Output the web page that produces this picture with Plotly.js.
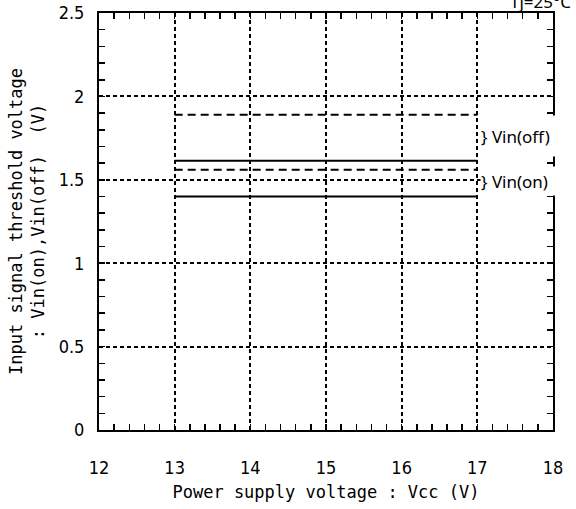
<!DOCTYPE html>
<html>
<head>
<meta charset="utf-8">
<script src="https://cdn.plot.ly/plotly-3.0.1.min.js"></script>
<style>html,body{margin:0;padding:0;background:#fff;}#chart{width:576px;height:509px;}</style>
</head>
<body>
<div id="chart"></div>
<script>
// Data
const vcc = [13, 17];
const vinOffUpper = [1.89, 1.89];   // dashed
const vinOffLower = [1.615, 1.615]; // solid
const vinOnUpper = [1.56, 1.56];    // dashed
const vinOnLower = [1.40, 1.40];    // solid

const xTickVals = [12, 13, 14, 15, 16, 17, 18];
const xTickText = ["12", "13", "14", "15", "16", "17", "18"];
const yTickVals = [0, 0.5, 1, 1.5, 2, 2.5];
const yTickText = ["0", "0.5", "1", "1.5", "2", "2.5"];

const labelOff = "}\u00a0Vin(off)";
const labelOn = "}\u00a0Vin(on)";
const condition = "Tj=25°C";
const xTitle = "Power supply voltage : Vcc (V)";
const yTitle = "Input signal threshold voltage<br>: Vin(on),Vin(off)\u00a0\u00a0(V)\u00a0\u00a0\u00a0\u00a0\u00a0";

const tickFont = {family: "Liberation Sans Narrow, DejaVu Sans Condensed, sans-serif", size: 18, color: "#000"};
const titleFont = {family: "DejaVu Sans Mono, monospace", size: 17, color: "#000"};
const annFont = {family: "Noto Sans, sans-serif", size: 17, color: "#000"};

function seg(y, dash) {
  return {x: vcc, y: y, type: "scatter", mode: "lines", showlegend: false, hoverinfo: "skip",
          line: {color: "#000", width: 2, dash: dash}};
}

const data = [
  seg(vinOffUpper, "8px,5px"),
  seg(vinOffLower, "solid"),
  seg(vinOnUpper, "8px,5px"),
  seg(vinOnLower, "solid")
];

const layout = {
  width: 576, height: 509,
  margin: {l: 99, r: 23, t: 13, b: 79},
  paper_bgcolor: "#fff", plot_bgcolor: "#fff",
  showlegend: false,
  xaxis: {
    range: [12, 18], tickvals: xTickVals, ticktext: xTickText,
    showline: true, linecolor: "#000", linewidth: 2, mirror: "ticks",
    ticks: "inside", ticklen: 6, tickwidth: 1.5, tickcolor: "#000",
    showgrid: true, gridcolor: "#000", gridwidth: 2, griddash: "4px,3px",
    zeroline: false, tickfont: tickFont, ticklabelstandoff: 20,
    minor: {dtick: 0.2, ticks: "inside", ticklen: 6, tickwidth: 1.5, tickcolor: "#000", showgrid: false},
    title: {text: xTitle, font: titleFont, standoff: 10}
  },
  yaxis: {
    range: [-0.0001, 2.5002], tickvals: yTickVals, ticktext: yTickText,
    showline: true, linecolor: "#000", linewidth: 2, mirror: "ticks",
    ticks: "inside", ticklen: 6, tickwidth: 1.5, tickcolor: "#000",
    showgrid: true, gridcolor: "#000", gridwidth: 2, griddash: "4px,3px",
    zeroline: false, tickfont: tickFont, ticklabelstandoff: 9,
    minor: {dtick: 0.1, ticks: "inside", ticklen: 6, tickwidth: 1.5, tickcolor: "#000", showgrid: false},
    title: {text: yTitle, font: titleFont, standoff: 10}
  },
  annotations: [
    {xref: "x", yref: "y", x: 17.04, y: 1.76, xanchor: "left", yanchor: "middle",
     text: labelOff, showarrow: false, font: annFont, bgcolor: "#fff",
     width: 76, height: 40, align: "left", borderpad: 0},
    {xref: "x", yref: "y", x: 17.04, y: 1.495, xanchor: "left", yanchor: "middle",
     text: labelOn, showarrow: false, font: annFont, bgcolor: "#fff",
     width: 76, height: 28, align: "left", borderpad: 0},
    {xref: "x", yref: "y", x: 17.4, y: 2.5, xanchor: "left", yanchor: "middle", yshift: 12,
     text: condition, showarrow: false, font: annFont}
  ]
};

Plotly.newPlot("chart", data, layout, {staticPlot: true, displayModeBar: false});
</script>
</body>
</html>
